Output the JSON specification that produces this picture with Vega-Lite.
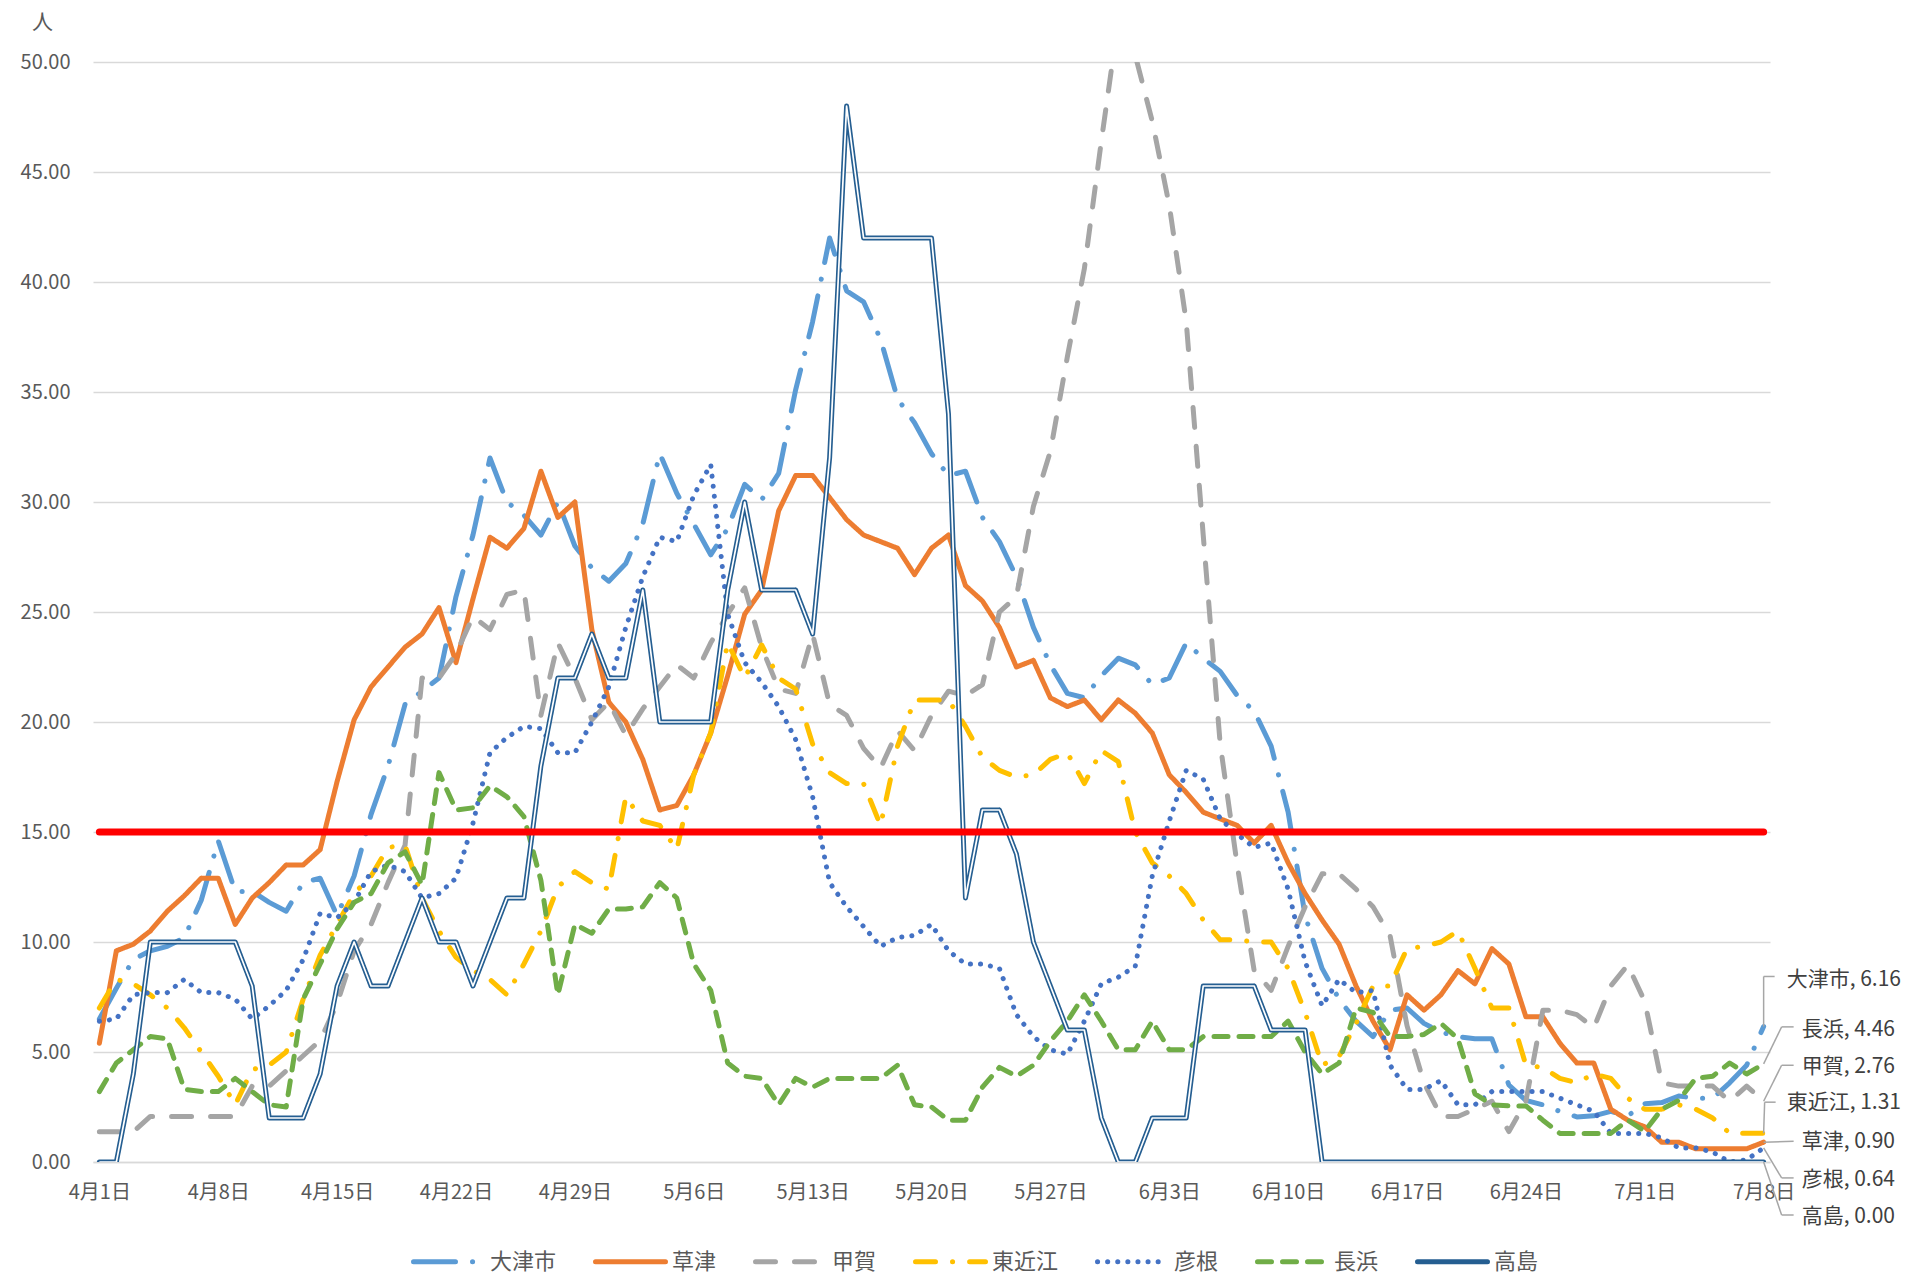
{
  "$schema": "https://vega.github.io/schema/vega-lite/v6.json",
  "width": 1677,
  "height": 1100,
  "autosize": {"type": "none"},
  "padding": {"left": 93, "top": 62, "right": 144, "bottom": 113},
  "background": "white",
  "config": {"view": {"stroke": null}, "font": "Noto Sans CJK JP"},
  "datasets": {
    "threshold": [{"start": "2021-04-01", "end": "2021-07-08", "level": 15}],
    "rates": [
{"date":"2021-04-01","city":"大津市","v":6.5},{"date":"2021-04-02","city":"大津市","v":7.9},{"date":"2021-04-03","city":"大津市","v":9.2},{"date":"2021-04-04","city":"大津市","v":9.6},{"date":"2021-04-05","city":"大津市","v":9.8},{"date":"2021-04-06","city":"大津市","v":10.2},{"date":"2021-04-07","city":"大津市","v":11.9},{"date":"2021-04-08","city":"大津市","v":14.6},{"date":"2021-04-09","city":"大津市","v":12.3},{"date":"2021-04-10","city":"大津市","v":12.3},
{"date":"2021-04-11","city":"大津市","v":11.8},{"date":"2021-04-12","city":"大津市","v":11.4},{"date":"2021-04-13","city":"大津市","v":12.7},{"date":"2021-04-14","city":"大津市","v":12.9},{"date":"2021-04-15","city":"大津市","v":11.2},{"date":"2021-04-16","city":"大津市","v":13.0},{"date":"2021-04-17","city":"大津市","v":15.8},{"date":"2021-04-18","city":"大津市","v":18.0},{"date":"2021-04-19","city":"大津市","v":20.8},{"date":"2021-04-20","city":"大津市","v":21.4},
{"date":"2021-04-21","city":"大津市","v":22.0},{"date":"2021-04-22","city":"大津市","v":25.7},{"date":"2021-04-23","city":"大津市","v":28.5},{"date":"2021-04-24","city":"大津市","v":32.0},{"date":"2021-04-25","city":"大津市","v":30.0},{"date":"2021-04-26","city":"大津市","v":29.4},{"date":"2021-04-27","city":"大津市","v":28.5},{"date":"2021-04-28","city":"大津市","v":30.0},{"date":"2021-04-29","city":"大津市","v":28.0},{"date":"2021-04-30","city":"大津市","v":27.0},
{"date":"2021-05-01","city":"大津市","v":26.4},{"date":"2021-05-02","city":"大津市","v":27.2},{"date":"2021-05-03","city":"大津市","v":29.0},{"date":"2021-05-04","city":"大津市","v":32.2},{"date":"2021-05-05","city":"大津市","v":30.4},{"date":"2021-05-06","city":"大津市","v":29.0},{"date":"2021-05-07","city":"大津市","v":27.6},{"date":"2021-05-08","city":"大津市","v":28.8},{"date":"2021-05-09","city":"大津市","v":30.8},{"date":"2021-05-10","city":"大津市","v":30.1},
{"date":"2021-05-11","city":"大津市","v":31.3},{"date":"2021-05-12","city":"大津市","v":35.1},{"date":"2021-05-13","city":"大津市","v":38.2},{"date":"2021-05-14","city":"大津市","v":42.0},{"date":"2021-05-15","city":"大津市","v":39.6},{"date":"2021-05-16","city":"大津市","v":39.1},{"date":"2021-05-17","city":"大津市","v":37.4},{"date":"2021-05-18","city":"大津市","v":34.7},{"date":"2021-05-19","city":"大津市","v":33.6},{"date":"2021-05-20","city":"大津市","v":32.2},
{"date":"2021-05-21","city":"大津市","v":31.2},{"date":"2021-05-22","city":"大津市","v":31.4},{"date":"2021-05-23","city":"大津市","v":29.3},{"date":"2021-05-24","city":"大津市","v":28.2},{"date":"2021-05-25","city":"大津市","v":26.6},{"date":"2021-05-26","city":"大津市","v":24.3},{"date":"2021-05-27","city":"大津市","v":22.6},{"date":"2021-05-28","city":"大津市","v":21.3},{"date":"2021-05-29","city":"大津市","v":21.1},{"date":"2021-05-30","city":"大津市","v":22.1},
{"date":"2021-05-31","city":"大津市","v":22.9},{"date":"2021-06-01","city":"大津市","v":22.6},{"date":"2021-06-02","city":"大津市","v":21.7},{"date":"2021-06-03","city":"大津市","v":22.0},{"date":"2021-06-04","city":"大津市","v":23.6},{"date":"2021-06-05","city":"大津市","v":22.9},{"date":"2021-06-06","city":"大津市","v":22.3},{"date":"2021-06-07","city":"大津市","v":21.2},{"date":"2021-06-08","city":"大津市","v":20.5},{"date":"2021-06-09","city":"大津市","v":18.9},
{"date":"2021-06-10","city":"大津市","v":15.9},{"date":"2021-06-11","city":"大津市","v":11.2},{"date":"2021-06-12","city":"大津市","v":8.8},{"date":"2021-06-13","city":"大津市","v":7.4},{"date":"2021-06-14","city":"大津市","v":6.4},{"date":"2021-06-15","city":"大津市","v":5.7},{"date":"2021-06-16","city":"大津市","v":6.9},{"date":"2021-06-17","city":"大津市","v":7.0},{"date":"2021-06-18","city":"大津市","v":6.3},{"date":"2021-06-19","city":"大津市","v":5.9},
{"date":"2021-06-20","city":"大津市","v":5.7},{"date":"2021-06-21","city":"大津市","v":5.6},{"date":"2021-06-22","city":"大津市","v":5.6},{"date":"2021-06-23","city":"大津市","v":3.5},{"date":"2021-06-24","city":"大津市","v":2.8},{"date":"2021-06-25","city":"大津市","v":2.6},{"date":"2021-06-26","city":"大津市","v":2.3},{"date":"2021-06-27","city":"大津市","v":2.05},{"date":"2021-06-28","city":"大津市","v":2.1},{"date":"2021-06-29","city":"大津市","v":2.3},
{"date":"2021-06-30","city":"大津市","v":2.1},{"date":"2021-07-01","city":"大津市","v":2.65},{"date":"2021-07-02","city":"大津市","v":2.7},{"date":"2021-07-03","city":"大津市","v":3.0},{"date":"2021-07-04","city":"大津市","v":2.9},{"date":"2021-07-05","city":"大津市","v":2.9},{"date":"2021-07-06","city":"大津市","v":3.6},{"date":"2021-07-07","city":"大津市","v":4.4},{"date":"2021-07-08","city":"大津市","v":6.16},

{"date":"2021-04-01","city":"草津","v":5.4},{"date":"2021-04-02","city":"草津","v":9.6},{"date":"2021-04-03","city":"草津","v":9.9},{"date":"2021-04-04","city":"草津","v":10.5},{"date":"2021-04-05","city":"草津","v":11.4},{"date":"2021-04-06","city":"草津","v":12.1},{"date":"2021-04-07","city":"草津","v":12.9},{"date":"2021-04-08","city":"草津","v":12.9},{"date":"2021-04-09","city":"草津","v":10.8},{"date":"2021-04-10","city":"草津","v":12.0},
{"date":"2021-04-11","city":"草津","v":12.7},{"date":"2021-04-12","city":"草津","v":13.5},{"date":"2021-04-13","city":"草津","v":13.5},{"date":"2021-04-14","city":"草津","v":14.2},{"date":"2021-04-15","city":"草津","v":17.3},{"date":"2021-04-16","city":"草津","v":20.1},{"date":"2021-04-17","city":"草津","v":21.6},{"date":"2021-04-18","city":"草津","v":22.5},{"date":"2021-04-19","city":"草津","v":23.4},{"date":"2021-04-20","city":"草津","v":24.0},
{"date":"2021-04-21","city":"草津","v":25.2},{"date":"2021-04-22","city":"草津","v":22.7},{"date":"2021-04-23","city":"草津","v":25.6},{"date":"2021-04-24","city":"草津","v":28.4},{"date":"2021-04-25","city":"草津","v":27.9},{"date":"2021-04-26","city":"草津","v":28.8},{"date":"2021-04-27","city":"草津","v":31.4},{"date":"2021-04-28","city":"草津","v":29.3},{"date":"2021-04-29","city":"草津","v":30.0},{"date":"2021-04-30","city":"草津","v":24.2},
{"date":"2021-05-01","city":"草津","v":20.9},{"date":"2021-05-02","city":"草津","v":20.0},{"date":"2021-05-03","city":"草津","v":18.3},{"date":"2021-05-04","city":"草津","v":16.0},{"date":"2021-05-05","city":"草津","v":16.2},{"date":"2021-05-06","city":"草津","v":17.6},{"date":"2021-05-07","city":"草津","v":19.5},{"date":"2021-05-08","city":"草津","v":22.1},{"date":"2021-05-09","city":"草津","v":24.9},{"date":"2021-05-10","city":"草津","v":26.0},
{"date":"2021-05-11","city":"草津","v":29.6},{"date":"2021-05-12","city":"草津","v":31.2},{"date":"2021-05-13","city":"草津","v":31.2},{"date":"2021-05-14","city":"草津","v":30.2},{"date":"2021-05-15","city":"草津","v":29.2},{"date":"2021-05-16","city":"草津","v":28.5},{"date":"2021-05-17","city":"草津","v":28.2},{"date":"2021-05-18","city":"草津","v":27.9},{"date":"2021-05-19","city":"草津","v":26.7},{"date":"2021-05-20","city":"草津","v":27.9},
{"date":"2021-05-21","city":"草津","v":28.5},{"date":"2021-05-22","city":"草津","v":26.2},{"date":"2021-05-23","city":"草津","v":25.5},{"date":"2021-05-24","city":"草津","v":24.3},{"date":"2021-05-25","city":"草津","v":22.5},{"date":"2021-05-26","city":"草津","v":22.8},{"date":"2021-05-27","city":"草津","v":21.1},{"date":"2021-05-28","city":"草津","v":20.7},{"date":"2021-05-29","city":"草津","v":21.0},{"date":"2021-05-30","city":"草津","v":20.1},
{"date":"2021-05-31","city":"草津","v":21.0},{"date":"2021-06-01","city":"草津","v":20.4},{"date":"2021-06-02","city":"草津","v":19.5},{"date":"2021-06-03","city":"草津","v":17.6},{"date":"2021-06-04","city":"草津","v":16.8},{"date":"2021-06-05","city":"草津","v":15.9},{"date":"2021-06-06","city":"草津","v":15.6},{"date":"2021-06-07","city":"草津","v":15.3},{"date":"2021-06-08","city":"草津","v":14.5},{"date":"2021-06-09","city":"草津","v":15.3},
{"date":"2021-06-10","city":"草津","v":13.6},{"date":"2021-06-11","city":"草津","v":12.2},{"date":"2021-06-12","city":"草津","v":11.0},{"date":"2021-06-13","city":"草津","v":9.9},{"date":"2021-06-14","city":"草津","v":8.0},{"date":"2021-06-15","city":"草津","v":6.4},{"date":"2021-06-16","city":"草津","v":5.1},{"date":"2021-06-17","city":"草津","v":7.6},{"date":"2021-06-18","city":"草津","v":6.9},{"date":"2021-06-19","city":"草津","v":7.6},
{"date":"2021-06-20","city":"草津","v":8.7},{"date":"2021-06-21","city":"草津","v":8.1},{"date":"2021-06-22","city":"草津","v":9.7},{"date":"2021-06-23","city":"草津","v":9.0},{"date":"2021-06-24","city":"草津","v":6.6},{"date":"2021-06-25","city":"草津","v":6.6},{"date":"2021-06-26","city":"草津","v":5.4},{"date":"2021-06-27","city":"草津","v":4.5},{"date":"2021-06-28","city":"草津","v":4.5},{"date":"2021-06-29","city":"草津","v":2.4},
{"date":"2021-06-30","city":"草津","v":1.9},{"date":"2021-07-01","city":"草津","v":1.6},{"date":"2021-07-02","city":"草津","v":0.9},{"date":"2021-07-03","city":"草津","v":0.9},{"date":"2021-07-04","city":"草津","v":0.6},{"date":"2021-07-05","city":"草津","v":0.6},{"date":"2021-07-06","city":"草津","v":0.6},{"date":"2021-07-07","city":"草津","v":0.6},{"date":"2021-07-08","city":"草津","v":0.9},

{"date":"2021-04-01","city":"甲賀","v":1.38},{"date":"2021-04-02","city":"甲賀","v":1.38},{"date":"2021-04-03","city":"甲賀","v":1.38},{"date":"2021-04-04","city":"甲賀","v":2.07},{"date":"2021-04-05","city":"甲賀","v":2.07},{"date":"2021-04-06","city":"甲賀","v":2.07},{"date":"2021-04-07","city":"甲賀","v":2.07},{"date":"2021-04-08","city":"甲賀","v":2.07},{"date":"2021-04-09","city":"甲賀","v":2.07},{"date":"2021-04-10","city":"甲賀","v":3.45},
{"date":"2021-04-11","city":"甲賀","v":3.45},{"date":"2021-04-12","city":"甲賀","v":4.14},{"date":"2021-04-13","city":"甲賀","v":4.83},{"date":"2021-04-14","city":"甲賀","v":5.52},{"date":"2021-04-15","city":"甲賀","v":7.2},{"date":"2021-04-16","city":"甲賀","v":9.6},{"date":"2021-04-17","city":"甲賀","v":10.8},{"date":"2021-04-18","city":"甲賀","v":12.7},{"date":"2021-04-19","city":"甲賀","v":14.4},{"date":"2021-04-20","city":"甲賀","v":22.0},
{"date":"2021-04-21","city":"甲賀","v":22.0},{"date":"2021-04-22","city":"甲賀","v":23.1},{"date":"2021-04-23","city":"甲賀","v":24.8},{"date":"2021-04-24","city":"甲賀","v":24.2},{"date":"2021-04-25","city":"甲賀","v":25.8},{"date":"2021-04-26","city":"甲賀","v":26.0},{"date":"2021-04-27","city":"甲賀","v":20.3},{"date":"2021-04-28","city":"甲賀","v":23.6},{"date":"2021-04-29","city":"甲賀","v":22.0},{"date":"2021-04-30","city":"甲賀","v":20.1},
{"date":"2021-05-01","city":"甲賀","v":20.9},{"date":"2021-05-02","city":"甲賀","v":19.4},{"date":"2021-05-03","city":"甲賀","v":20.6},{"date":"2021-05-04","city":"甲賀","v":21.6},{"date":"2021-05-05","city":"甲賀","v":22.6},{"date":"2021-05-06","city":"甲賀","v":22.0},{"date":"2021-05-07","city":"甲賀","v":23.6},{"date":"2021-05-08","city":"甲賀","v":24.9},{"date":"2021-05-09","city":"甲賀","v":26.1},{"date":"2021-05-10","city":"甲賀","v":23.4},
{"date":"2021-05-11","city":"甲賀","v":21.5},{"date":"2021-05-12","city":"甲賀","v":21.3},{"date":"2021-05-13","city":"甲賀","v":24.0},{"date":"2021-05-14","city":"甲賀","v":20.8},{"date":"2021-05-15","city":"甲賀","v":20.3},{"date":"2021-05-16","city":"甲賀","v":18.8},{"date":"2021-05-17","city":"甲賀","v":17.9},{"date":"2021-05-18","city":"甲賀","v":19.6},{"date":"2021-05-19","city":"甲賀","v":18.7},{"date":"2021-05-20","city":"甲賀","v":20.3},
{"date":"2021-05-21","city":"甲賀","v":21.4},{"date":"2021-05-22","city":"甲賀","v":21.2},{"date":"2021-05-23","city":"甲賀","v":21.7},{"date":"2021-05-24","city":"甲賀","v":25.0},{"date":"2021-05-25","city":"甲賀","v":25.7},{"date":"2021-05-26","city":"甲賀","v":29.8},{"date":"2021-05-27","city":"甲賀","v":32.3},{"date":"2021-05-28","city":"甲賀","v":36.6},{"date":"2021-05-29","city":"甲賀","v":40.6},{"date":"2021-05-30","city":"甲賀","v":46.4},
{"date":"2021-05-31","city":"甲賀","v":51.9},{"date":"2021-06-01","city":"甲賀","v":50.3},{"date":"2021-06-02","city":"甲賀","v":47.3},{"date":"2021-06-03","city":"甲賀","v":43.5},{"date":"2021-06-04","city":"甲賀","v":38.2},{"date":"2021-06-05","city":"甲賀","v":28.5},{"date":"2021-06-06","city":"甲賀","v":19.0},{"date":"2021-06-07","city":"甲賀","v":13.5},{"date":"2021-06-08","city":"甲賀","v":8.7},{"date":"2021-06-09","city":"甲賀","v":7.8},
{"date":"2021-06-10","city":"甲賀","v":9.8},{"date":"2021-06-11","city":"甲賀","v":11.6},{"date":"2021-06-12","city":"甲賀","v":13.1},{"date":"2021-06-13","city":"甲賀","v":13.1},{"date":"2021-06-14","city":"甲賀","v":12.4},{"date":"2021-06-15","city":"甲賀","v":11.6},{"date":"2021-06-16","city":"甲賀","v":10.3},{"date":"2021-06-17","city":"甲賀","v":6.2},{"date":"2021-06-18","city":"甲賀","v":3.6},{"date":"2021-06-19","city":"甲賀","v":2.07},
{"date":"2021-06-20","city":"甲賀","v":2.07},{"date":"2021-06-21","city":"甲賀","v":2.4},{"date":"2021-06-22","city":"甲賀","v":2.76},{"date":"2021-06-23","city":"甲賀","v":1.38},{"date":"2021-06-24","city":"甲賀","v":2.76},{"date":"2021-06-25","city":"甲賀","v":6.9},{"date":"2021-06-26","city":"甲賀","v":6.9},{"date":"2021-06-27","city":"甲賀","v":6.7},{"date":"2021-06-28","city":"甲賀","v":6.1},{"date":"2021-06-29","city":"甲賀","v":8.0},
{"date":"2021-06-30","city":"甲賀","v":8.96},{"date":"2021-07-01","city":"甲賀","v":7.3},{"date":"2021-07-02","city":"甲賀","v":3.6},{"date":"2021-07-03","city":"甲賀","v":3.45},{"date":"2021-07-04","city":"甲賀","v":3.45},{"date":"2021-07-05","city":"甲賀","v":3.45},{"date":"2021-07-06","city":"甲賀","v":2.76},{"date":"2021-07-07","city":"甲賀","v":3.45},{"date":"2021-07-08","city":"甲賀","v":2.76},

{"date":"2021-04-01","city":"東近江","v":7.0},{"date":"2021-04-02","city":"東近江","v":8.3},{"date":"2021-04-03","city":"東近江","v":8.1},{"date":"2021-04-04","city":"東近江","v":7.6},{"date":"2021-04-05","city":"東近江","v":7.0},{"date":"2021-04-06","city":"東近江","v":6.1},{"date":"2021-04-07","city":"東近江","v":5.0},{"date":"2021-04-08","city":"東近江","v":3.9},{"date":"2021-04-09","city":"東近江","v":2.6},{"date":"2021-04-10","city":"東近江","v":4.2},
{"date":"2021-04-11","city":"東近江","v":4.4},{"date":"2021-04-12","city":"東近江","v":5.0},{"date":"2021-04-13","city":"東近江","v":7.4},{"date":"2021-04-14","city":"東近江","v":9.4},{"date":"2021-04-15","city":"東近江","v":10.8},{"date":"2021-04-16","city":"東近江","v":12.2},{"date":"2021-04-17","city":"東近江","v":13.0},{"date":"2021-04-18","city":"東近江","v":14.3},{"date":"2021-04-19","city":"東近江","v":14.4},{"date":"2021-04-20","city":"東近江","v":12.0},
{"date":"2021-04-21","city":"東近江","v":10.5},{"date":"2021-04-22","city":"東近江","v":9.3},{"date":"2021-04-23","city":"東近江","v":8.7},{"date":"2021-04-24","city":"東近江","v":8.3},{"date":"2021-04-25","city":"東近江","v":7.6},{"date":"2021-04-26","city":"東近江","v":9.0},{"date":"2021-04-27","city":"東近江","v":10.5},{"date":"2021-04-28","city":"東近江","v":12.5},{"date":"2021-04-29","city":"東近江","v":13.2},{"date":"2021-04-30","city":"東近江","v":12.7},
{"date":"2021-05-01","city":"東近江","v":12.4},{"date":"2021-05-02","city":"東近江","v":16.6},{"date":"2021-05-03","city":"東近江","v":15.5},{"date":"2021-05-04","city":"東近江","v":15.3},{"date":"2021-05-05","city":"東近江","v":14.2},{"date":"2021-05-06","city":"東近江","v":17.6},{"date":"2021-05-07","city":"東近江","v":19.5},{"date":"2021-05-08","city":"東近江","v":23.6},{"date":"2021-05-09","city":"東近江","v":22.0},{"date":"2021-05-10","city":"東近江","v":23.5},
{"date":"2021-05-11","city":"東近江","v":22.0},{"date":"2021-05-12","city":"東近江","v":21.5},{"date":"2021-05-13","city":"東近江","v":19.0},{"date":"2021-05-14","city":"東近江","v":17.7},{"date":"2021-05-15","city":"東近江","v":17.2},{"date":"2021-05-16","city":"東近江","v":17.2},{"date":"2021-05-17","city":"東近江","v":15.3},{"date":"2021-05-18","city":"東近江","v":18.9},{"date":"2021-05-19","city":"東近江","v":21.0},{"date":"2021-05-20","city":"東近江","v":21.0},
{"date":"2021-05-21","city":"東近江","v":21.0},{"date":"2021-05-22","city":"東近江","v":19.8},{"date":"2021-05-23","city":"東近江","v":18.4},{"date":"2021-05-24","city":"東近江","v":17.8},{"date":"2021-05-25","city":"東近江","v":17.5},{"date":"2021-05-26","city":"東近江","v":17.6},{"date":"2021-05-27","city":"東近江","v":18.3},{"date":"2021-05-28","city":"東近江","v":18.6},{"date":"2021-05-29","city":"東近江","v":17.2},{"date":"2021-05-30","city":"東近江","v":18.7},
{"date":"2021-05-31","city":"東近江","v":18.2},{"date":"2021-06-01","city":"東近江","v":15.0},{"date":"2021-06-02","city":"東近江","v":13.6},{"date":"2021-06-03","city":"東近江","v":13.0},{"date":"2021-06-04","city":"東近江","v":12.2},{"date":"2021-06-05","city":"東近江","v":11.0},{"date":"2021-06-06","city":"東近江","v":10.1},{"date":"2021-06-07","city":"東近江","v":10.1},{"date":"2021-06-08","city":"東近江","v":10.0},{"date":"2021-06-09","city":"東近江","v":10.0},
{"date":"2021-06-10","city":"東近江","v":8.8},{"date":"2021-06-11","city":"東近江","v":6.8},{"date":"2021-06-12","city":"東近江","v":4.4},{"date":"2021-06-13","city":"東近江","v":4.8},{"date":"2021-06-14","city":"東近江","v":6.3},{"date":"2021-06-15","city":"東近江","v":8.0},{"date":"2021-06-16","city":"東近江","v":8.0},{"date":"2021-06-17","city":"東近江","v":9.7},{"date":"2021-06-18","city":"東近江","v":9.8},{"date":"2021-06-19","city":"東近江","v":10.0},
{"date":"2021-06-20","city":"東近江","v":10.5},{"date":"2021-06-21","city":"東近江","v":8.8},{"date":"2021-06-22","city":"東近江","v":7.0},{"date":"2021-06-23","city":"東近江","v":7.0},{"date":"2021-06-24","city":"東近江","v":4.4},{"date":"2021-06-25","city":"東近江","v":4.3},{"date":"2021-06-26","city":"東近江","v":3.8},{"date":"2021-06-27","city":"東近江","v":3.6},{"date":"2021-06-28","city":"東近江","v":4.0},{"date":"2021-06-29","city":"東近江","v":3.8},
{"date":"2021-06-30","city":"東近江","v":2.9},{"date":"2021-07-01","city":"東近江","v":2.4},{"date":"2021-07-02","city":"東近江","v":2.4},{"date":"2021-07-03","city":"東近江","v":2.6},{"date":"2021-07-04","city":"東近江","v":2.4},{"date":"2021-07-05","city":"東近江","v":2.0},{"date":"2021-07-06","city":"東近江","v":1.31},{"date":"2021-07-07","city":"東近江","v":1.31},{"date":"2021-07-08","city":"東近江","v":1.31},

{"date":"2021-04-01","city":"彦根","v":6.4},{"date":"2021-04-02","city":"彦根","v":6.5},{"date":"2021-04-03","city":"彦根","v":7.6},{"date":"2021-04-04","city":"彦根","v":7.7},{"date":"2021-04-05","city":"彦根","v":7.7},{"date":"2021-04-06","city":"彦根","v":8.3},{"date":"2021-04-07","city":"彦根","v":7.7},{"date":"2021-04-08","city":"彦根","v":7.7},{"date":"2021-04-09","city":"彦根","v":7.4},{"date":"2021-04-10","city":"彦根","v":6.5},
{"date":"2021-04-11","city":"彦根","v":7.1},{"date":"2021-04-12","city":"彦根","v":7.8},{"date":"2021-04-13","city":"彦根","v":9.2},{"date":"2021-04-14","city":"彦根","v":11.3},{"date":"2021-04-15","city":"彦根","v":11.1},{"date":"2021-04-16","city":"彦根","v":11.8},{"date":"2021-04-17","city":"彦根","v":13.2},{"date":"2021-04-18","city":"彦根","v":13.5},{"date":"2021-04-19","city":"彦根","v":13.2},{"date":"2021-04-20","city":"彦根","v":12.0},
{"date":"2021-04-21","city":"彦根","v":12.2},{"date":"2021-04-22","city":"彦根","v":12.9},{"date":"2021-04-23","city":"彦根","v":15.4},{"date":"2021-04-24","city":"彦根","v":18.6},{"date":"2021-04-25","city":"彦根","v":19.3},{"date":"2021-04-26","city":"彦根","v":19.8},{"date":"2021-04-27","city":"彦根","v":19.7},{"date":"2021-04-28","city":"彦根","v":18.6},{"date":"2021-04-29","city":"彦根","v":18.6},{"date":"2021-04-30","city":"彦根","v":20.0},
{"date":"2021-05-01","city":"彦根","v":21.6},{"date":"2021-05-02","city":"彦根","v":24.3},{"date":"2021-05-03","city":"彦根","v":26.6},{"date":"2021-05-04","city":"彦根","v":28.4},{"date":"2021-05-05","city":"彦根","v":28.2},{"date":"2021-05-06","city":"彦根","v":30.3},{"date":"2021-05-07","city":"彦根","v":31.7},{"date":"2021-05-08","city":"彦根","v":24.9},{"date":"2021-05-09","city":"彦根","v":22.7},{"date":"2021-05-10","city":"彦根","v":21.8},
{"date":"2021-05-11","city":"彦根","v":20.7},{"date":"2021-05-12","city":"彦根","v":19.2},{"date":"2021-05-13","city":"彦根","v":16.6},{"date":"2021-05-14","city":"彦根","v":12.7},{"date":"2021-05-15","city":"彦根","v":11.6},{"date":"2021-05-16","city":"彦根","v":10.7},{"date":"2021-05-17","city":"彦根","v":9.8},{"date":"2021-05-18","city":"彦根","v":10.2},{"date":"2021-05-19","city":"彦根","v":10.3},{"date":"2021-05-20","city":"彦根","v":10.8},
{"date":"2021-05-21","city":"彦根","v":9.6},{"date":"2021-05-22","city":"彦根","v":9.0},{"date":"2021-05-23","city":"彦根","v":9.0},{"date":"2021-05-24","city":"彦根","v":8.8},{"date":"2021-05-25","city":"彦根","v":6.7},{"date":"2021-05-26","city":"彦根","v":5.7},{"date":"2021-05-27","city":"彦根","v":5.1},{"date":"2021-05-28","city":"彦根","v":4.9},{"date":"2021-05-29","city":"彦根","v":6.4},{"date":"2021-05-30","city":"彦根","v":8.1},
{"date":"2021-05-31","city":"彦根","v":8.4},{"date":"2021-06-01","city":"彦根","v":8.9},{"date":"2021-06-02","city":"彦根","v":13.0},{"date":"2021-06-03","city":"彦根","v":15.5},{"date":"2021-06-04","city":"彦根","v":17.8},{"date":"2021-06-05","city":"彦根","v":17.4},{"date":"2021-06-06","city":"彦根","v":15.6},{"date":"2021-06-07","city":"彦根","v":14.9},{"date":"2021-06-08","city":"彦根","v":14.3},{"date":"2021-06-09","city":"彦根","v":14.5},
{"date":"2021-06-10","city":"彦根","v":12.4},{"date":"2021-06-11","city":"彦根","v":9.1},{"date":"2021-06-12","city":"彦根","v":7.1},{"date":"2021-06-13","city":"彦根","v":8.3},{"date":"2021-06-14","city":"彦根","v":7.7},{"date":"2021-06-15","city":"彦根","v":7.8},{"date":"2021-06-16","city":"彦根","v":4.4},{"date":"2021-06-17","city":"彦根","v":3.3},{"date":"2021-06-18","city":"彦根","v":3.3},{"date":"2021-06-19","city":"彦根","v":3.7},
{"date":"2021-06-20","city":"彦根","v":2.6},{"date":"2021-06-21","city":"彦根","v":2.6},{"date":"2021-06-22","city":"彦根","v":3.2},{"date":"2021-06-23","city":"彦根","v":3.2},{"date":"2021-06-24","city":"彦根","v":3.2},{"date":"2021-06-25","city":"彦根","v":3.2},{"date":"2021-06-26","city":"彦根","v":2.9},{"date":"2021-06-27","city":"彦根","v":2.6},{"date":"2021-06-28","city":"彦根","v":2.3},{"date":"2021-06-29","city":"彦根","v":1.3},
{"date":"2021-06-30","city":"彦根","v":1.3},{"date":"2021-07-01","city":"彦根","v":1.3},{"date":"2021-07-02","city":"彦根","v":1.1},{"date":"2021-07-03","city":"彦根","v":0.64},{"date":"2021-07-04","city":"彦根","v":0.64},{"date":"2021-07-05","city":"彦根","v":0.45},{"date":"2021-07-06","city":"彦根","v":0},{"date":"2021-07-07","city":"彦根","v":0.1},{"date":"2021-07-08","city":"彦根","v":0.64},

{"date":"2021-04-01","city":"長浜","v":3.2},{"date":"2021-04-02","city":"長浜","v":4.5},{"date":"2021-04-03","city":"長浜","v":5.1},{"date":"2021-04-04","city":"長浜","v":5.7},{"date":"2021-04-05","city":"長浜","v":5.6},{"date":"2021-04-06","city":"長浜","v":3.3},{"date":"2021-04-07","city":"長浜","v":3.2},{"date":"2021-04-08","city":"長浜","v":3.2},{"date":"2021-04-09","city":"長浜","v":3.8},{"date":"2021-04-10","city":"長浜","v":3.2},
{"date":"2021-04-11","city":"長浜","v":2.6},{"date":"2021-04-12","city":"長浜","v":2.5},{"date":"2021-04-13","city":"長浜","v":7.4},{"date":"2021-04-14","city":"長浜","v":9.0},{"date":"2021-04-15","city":"長浜","v":10.6},{"date":"2021-04-16","city":"長浜","v":11.8},{"date":"2021-04-17","city":"長浜","v":12.2},{"date":"2021-04-18","city":"長浜","v":13.6},{"date":"2021-04-19","city":"長浜","v":14.1},{"date":"2021-04-20","city":"長浜","v":12.6},
{"date":"2021-04-21","city":"長浜","v":17.7},{"date":"2021-04-22","city":"長浜","v":16.0},{"date":"2021-04-23","city":"長浜","v":16.1},{"date":"2021-04-24","city":"長浜","v":17.1},{"date":"2021-04-25","city":"長浜","v":16.6},{"date":"2021-04-26","city":"長浜","v":15.7},{"date":"2021-04-27","city":"長浜","v":12.8},{"date":"2021-04-28","city":"長浜","v":7.6},{"date":"2021-04-29","city":"長浜","v":10.8},{"date":"2021-04-30","city":"長浜","v":10.4},
{"date":"2021-05-01","city":"長浜","v":11.5},{"date":"2021-05-02","city":"長浜","v":11.5},{"date":"2021-05-03","city":"長浜","v":11.6},{"date":"2021-05-04","city":"長浜","v":12.7},{"date":"2021-05-05","city":"長浜","v":12.0},{"date":"2021-05-06","city":"長浜","v":9.0},{"date":"2021-05-07","city":"長浜","v":7.8},{"date":"2021-05-08","city":"長浜","v":4.5},{"date":"2021-05-09","city":"長浜","v":3.9},{"date":"2021-05-10","city":"長浜","v":3.8},
{"date":"2021-05-11","city":"長浜","v":2.6},{"date":"2021-05-12","city":"長浜","v":3.8},{"date":"2021-05-13","city":"長浜","v":3.4},{"date":"2021-05-14","city":"長浜","v":3.8},{"date":"2021-05-15","city":"長浜","v":3.8},{"date":"2021-05-16","city":"長浜","v":3.8},{"date":"2021-05-17","city":"長浜","v":3.8},{"date":"2021-05-18","city":"長浜","v":4.4},{"date":"2021-05-19","city":"長浜","v":2.6},{"date":"2021-05-20","city":"長浜","v":2.5},
{"date":"2021-05-21","city":"長浜","v":1.9},{"date":"2021-05-22","city":"長浜","v":1.9},{"date":"2021-05-23","city":"長浜","v":3.4},{"date":"2021-05-24","city":"長浜","v":4.3},{"date":"2021-05-25","city":"長浜","v":3.9},{"date":"2021-05-26","city":"長浜","v":4.4},{"date":"2021-05-27","city":"長浜","v":5.5},{"date":"2021-05-28","city":"長浜","v":6.4},{"date":"2021-05-29","city":"長浜","v":7.6},{"date":"2021-05-30","city":"長浜","v":6.4},
{"date":"2021-05-31","city":"長浜","v":5.1},{"date":"2021-06-01","city":"長浜","v":5.1},{"date":"2021-06-02","city":"長浜","v":6.4},{"date":"2021-06-03","city":"長浜","v":5.1},{"date":"2021-06-04","city":"長浜","v":5.1},{"date":"2021-06-05","city":"長浜","v":5.7},{"date":"2021-06-06","city":"長浜","v":5.7},{"date":"2021-06-07","city":"長浜","v":5.7},{"date":"2021-06-08","city":"長浜","v":5.7},{"date":"2021-06-09","city":"長浜","v":5.7},
{"date":"2021-06-10","city":"長浜","v":6.4},{"date":"2021-06-11","city":"長浜","v":5.0},{"date":"2021-06-12","city":"長浜","v":4.0},{"date":"2021-06-13","city":"長浜","v":4.5},{"date":"2021-06-14","city":"長浜","v":7.0},{"date":"2021-06-15","city":"長浜","v":6.8},{"date":"2021-06-16","city":"長浜","v":5.7},{"date":"2021-06-17","city":"長浜","v":5.7},{"date":"2021-06-18","city":"長浜","v":5.8},{"date":"2021-06-19","city":"長浜","v":6.3},
{"date":"2021-06-20","city":"長浜","v":5.6},{"date":"2021-06-21","city":"長浜","v":3.1},{"date":"2021-06-22","city":"長浜","v":2.6},{"date":"2021-06-23","city":"長浜","v":2.55},{"date":"2021-06-24","city":"長浜","v":2.55},{"date":"2021-06-25","city":"長浜","v":1.9},{"date":"2021-06-26","city":"長浜","v":1.3},{"date":"2021-06-27","city":"長浜","v":1.3},{"date":"2021-06-28","city":"長浜","v":1.3},{"date":"2021-06-29","city":"長浜","v":1.3},
{"date":"2021-06-30","city":"長浜","v":1.9},{"date":"2021-07-01","city":"長浜","v":1.4},{"date":"2021-07-02","city":"長浜","v":2.4},{"date":"2021-07-03","city":"長浜","v":2.8},{"date":"2021-07-04","city":"長浜","v":3.8},{"date":"2021-07-05","city":"長浜","v":3.9},{"date":"2021-07-06","city":"長浜","v":4.5},{"date":"2021-07-07","city":"長浜","v":4.0},{"date":"2021-07-08","city":"長浜","v":4.46},

{"date":"2021-04-01","city":"高島","v":0},{"date":"2021-04-02","city":"高島","v":0},{"date":"2021-04-03","city":"高島","v":4},{"date":"2021-04-04","city":"高島","v":10},{"date":"2021-04-05","city":"高島","v":10},{"date":"2021-04-06","city":"高島","v":10},{"date":"2021-04-07","city":"高島","v":10},{"date":"2021-04-08","city":"高島","v":10},{"date":"2021-04-09","city":"高島","v":10},{"date":"2021-04-10","city":"高島","v":8},
{"date":"2021-04-11","city":"高島","v":2},{"date":"2021-04-12","city":"高島","v":2},{"date":"2021-04-13","city":"高島","v":2},{"date":"2021-04-14","city":"高島","v":4},{"date":"2021-04-15","city":"高島","v":8},{"date":"2021-04-16","city":"高島","v":10},{"date":"2021-04-17","city":"高島","v":8},{"date":"2021-04-18","city":"高島","v":8},{"date":"2021-04-19","city":"高島","v":10},{"date":"2021-04-20","city":"高島","v":12},
{"date":"2021-04-21","city":"高島","v":10},{"date":"2021-04-22","city":"高島","v":10},{"date":"2021-04-23","city":"高島","v":8},{"date":"2021-04-24","city":"高島","v":10},{"date":"2021-04-25","city":"高島","v":12},{"date":"2021-04-26","city":"高島","v":12},{"date":"2021-04-27","city":"高島","v":18},{"date":"2021-04-28","city":"高島","v":22},{"date":"2021-04-29","city":"高島","v":22},{"date":"2021-04-30","city":"高島","v":24},
{"date":"2021-05-01","city":"高島","v":22},{"date":"2021-05-02","city":"高島","v":22},{"date":"2021-05-03","city":"高島","v":26},{"date":"2021-05-04","city":"高島","v":20},{"date":"2021-05-05","city":"高島","v":20},{"date":"2021-05-06","city":"高島","v":20},{"date":"2021-05-07","city":"高島","v":20},{"date":"2021-05-08","city":"高島","v":26},{"date":"2021-05-09","city":"高島","v":30},{"date":"2021-05-10","city":"高島","v":26},
{"date":"2021-05-11","city":"高島","v":26},{"date":"2021-05-12","city":"高島","v":26},{"date":"2021-05-13","city":"高島","v":24},{"date":"2021-05-14","city":"高島","v":32},{"date":"2021-05-15","city":"高島","v":48},{"date":"2021-05-16","city":"高島","v":42},{"date":"2021-05-17","city":"高島","v":42},{"date":"2021-05-18","city":"高島","v":42},{"date":"2021-05-19","city":"高島","v":42},{"date":"2021-05-20","city":"高島","v":42},
{"date":"2021-05-21","city":"高島","v":34},{"date":"2021-05-22","city":"高島","v":12},{"date":"2021-05-23","city":"高島","v":16},{"date":"2021-05-24","city":"高島","v":16},{"date":"2021-05-25","city":"高島","v":14},{"date":"2021-05-26","city":"高島","v":10},{"date":"2021-05-27","city":"高島","v":8},{"date":"2021-05-28","city":"高島","v":6},{"date":"2021-05-29","city":"高島","v":6},{"date":"2021-05-30","city":"高島","v":2},
{"date":"2021-05-31","city":"高島","v":0},{"date":"2021-06-01","city":"高島","v":0},{"date":"2021-06-02","city":"高島","v":2},{"date":"2021-06-03","city":"高島","v":2},{"date":"2021-06-04","city":"高島","v":2},{"date":"2021-06-05","city":"高島","v":8},{"date":"2021-06-06","city":"高島","v":8},{"date":"2021-06-07","city":"高島","v":8},{"date":"2021-06-08","city":"高島","v":8},{"date":"2021-06-09","city":"高島","v":6},
{"date":"2021-06-10","city":"高島","v":6},{"date":"2021-06-11","city":"高島","v":6},{"date":"2021-06-12","city":"高島","v":0},{"date":"2021-06-13","city":"高島","v":0},{"date":"2021-06-14","city":"高島","v":0},{"date":"2021-06-15","city":"高島","v":0},{"date":"2021-06-16","city":"高島","v":0},{"date":"2021-06-17","city":"高島","v":0},{"date":"2021-06-18","city":"高島","v":0},{"date":"2021-06-19","city":"高島","v":0},
{"date":"2021-06-20","city":"高島","v":0},{"date":"2021-06-21","city":"高島","v":0},{"date":"2021-06-22","city":"高島","v":0},{"date":"2021-06-23","city":"高島","v":0},{"date":"2021-06-24","city":"高島","v":0},{"date":"2021-06-25","city":"高島","v":0},{"date":"2021-06-26","city":"高島","v":0},{"date":"2021-06-27","city":"高島","v":0},{"date":"2021-06-28","city":"高島","v":0},{"date":"2021-06-29","city":"高島","v":0},
{"date":"2021-06-30","city":"高島","v":0},{"date":"2021-07-01","city":"高島","v":0},{"date":"2021-07-02","city":"高島","v":0},{"date":"2021-07-03","city":"高島","v":0},{"date":"2021-07-04","city":"高島","v":0},{"date":"2021-07-05","city":"高島","v":0},{"date":"2021-07-06","city":"高島","v":0},{"date":"2021-07-07","city":"高島","v":0},{"date":"2021-07-08","city":"高島","v":0}
    ]
  },
  "layer": [
    {
      "data": {"name": "rates"},
      "mark": {"type": "line", "strokeWidth": 5, "strokeCap": "round", "strokeJoin": "round", "clip": true},
      "encoding": {
        "x": {
          "field": "date", "type": "temporal",
          "scale": {"type": "utc", "domain": [{"year": 2021, "month": 3, "date": 31, "hours": 15, "utc": true}, {"year": 2021, "month": 7, "date": 8, "hours": 9, "utc": true}]},
          "axis": {
            "title": null, "grid": false, "ticks": false,
            "domainColor": "#D9D9D9", "domainWidth": 1.3,
            "labelFontSize": 20, "labelColor": "#595959", "labelPadding": 20,
            "labelFlush": false, "labelOverlap": false,
            "labelExpr": "utcFormat(datum.value, '%-m月%-d日')",
            "values": [
              {"year": 2021, "month": 4, "date": 1, "utc": true},
              {"year": 2021, "month": 4, "date": 8, "utc": true},
              {"year": 2021, "month": 4, "date": 15, "utc": true},
              {"year": 2021, "month": 4, "date": 22, "utc": true},
              {"year": 2021, "month": 4, "date": 29, "utc": true},
              {"year": 2021, "month": 5, "date": 6, "utc": true},
              {"year": 2021, "month": 5, "date": 13, "utc": true},
              {"year": 2021, "month": 5, "date": 20, "utc": true},
              {"year": 2021, "month": 5, "date": 27, "utc": true},
              {"year": 2021, "month": 6, "date": 3, "utc": true},
              {"year": 2021, "month": 6, "date": 10, "utc": true},
              {"year": 2021, "month": 6, "date": 17, "utc": true},
              {"year": 2021, "month": 6, "date": 24, "utc": true},
              {"year": 2021, "month": 7, "date": 1, "utc": true},
              {"year": 2021, "month": 7, "date": 8, "utc": true}
            ]
          }
        },
        "y": {
          "field": "v", "type": "quantitative",
          "scale": {"domain": [0, 50], "nice": false},
          "axis": {
            "values": [0, 5, 10, 15, 20, 25, 30, 35, 40, 45, 50],
            "format": ".2f", "domain": false, "ticks": false,
            "gridColor": "#D9D9D9", "gridWidth": 1.3,
            "labelFontSize": 20, "labelColor": "#595959", "labelPadding": 23,
            "title": "人", "titleAngle": 0, "titleX": -51, "titleY": -40,
            "titleAlign": "center", "titleBaseline": "middle",
            "titleFontSize": 21, "titleFontWeight": "normal", "titleColor": "#595959"
          }
        },
        "color": {
          "field": "city", "type": "nominal",
          "scale": {"domain": ["大津市", "草津", "甲賀", "東近江", "彦根", "長浜", "高島"], "range": ["#5B9BD5", "#ED7D31", "#A5A5A5", "#FFC000", "#4472C4", "#70AD47", "#255E91"]},
          "legend": {"orient": "none", "legendX": 318, "legendY": 1162, "direction": "horizontal", "columns": 7, "title": null, "symbolType": "stroke", "symbolSize": 4900, "symbolStrokeWidth": 5, "labelFontSize": 22, "labelColor": "#595959", "labelOffset": 4, "columnPadding": 28, "padding": 0,
            "encode": {"symbols": {"update": {"strokeCap": {"value": "round"}}}}}
        },
        "strokeDash": {
          "field": "city", "type": "nominal",
          "scale": {"domain": ["大津市", "草津", "甲賀", "東近江", "彦根", "長浜", "高島"], "range": [[42, 17, 0.1, 17], [1, 0], [20, 19], [20, 17, 0.1, 17], [0.1, 10], [14, 11], [1, 0]]},
          "legend": {"orient": "none", "legendX": 318, "legendY": 1162, "direction": "horizontal", "columns": 7, "title": null, "symbolType": "stroke", "symbolSize": 4900, "symbolStrokeWidth": 5, "labelFontSize": 22, "labelColor": "#595959", "labelOffset": 4, "columnPadding": 28, "padding": 0,
            "encode": {"symbols": {"update": {"strokeCap": {"value": "round"}}}}}
        }
      }
    },
    {
      "data": {"name": "rates"},
      "transform": [{"filter": "datum.city == '高島'"}],
      "mark": {"type": "line", "stroke": "white", "strokeWidth": 1.7, "strokeJoin": "round", "clip": true},
      "encoding": {"x": {"field": "date", "type": "temporal"}, "y": {"field": "v", "type": "quantitative"}}
    },
    {
      "data": {"name": "threshold"},
      "mark": {"type": "rule", "color": "#FF0000", "strokeWidth": 7, "strokeCap": "round"},
      "encoding": {"x": {"field": "start", "type": "temporal"}, "x2": {"field": "end"}, "y": {"field": "level", "type": "quantitative"}}
    },
    {
      "data": {"name": "rates"},
      "transform": [{"filter": "datum.city == '大津市' && time(datum.date) == utc(2021,6,8)"}, {"calculate": "datum.city + ', ' + format(datum.v, '.2f')", "as": "label"}],
      "layer": [
        {"mark": {"type": "rule", "color": "#A6A6A6", "strokeWidth": 1.5, "x2Offset": 0, "y2Offset": -50}, "encoding": {"x": {"field": "date", "type": "temporal"}, "y": {"field": "v", "type": "quantitative"}, "x2": {"field": "date"}, "y2": {"field": "v"}}},
        {"mark": {"type": "rule", "color": "#A6A6A6", "strokeWidth": 1.5, "yOffset": -50, "x2Offset": 11, "y2Offset": -50}, "encoding": {"x": {"field": "date", "type": "temporal"}, "y": {"field": "v", "type": "quantitative"}, "x2": {"field": "date"}, "y2": {"field": "v"}}},
        {"mark": {"type": "text", "align": "left", "baseline": "middle", "dx": 23, "dy": -46, "fontSize": 21, "color": "#404040"}, "encoding": {"x": {"field": "date", "type": "temporal"}, "y": {"field": "v", "type": "quantitative"}, "text": {"field": "label"}}}
      ]
    },
    {
      "data": {"name": "rates"},
      "transform": [{"filter": "datum.city == '長浜' && time(datum.date) == utc(2021,6,8)"}, {"calculate": "datum.city + ', ' + format(datum.v, '.2f')", "as": "label"}],
      "layer": [
        {"mark": {"type": "rule", "color": "#A6A6A6", "strokeWidth": 1.5, "x2Offset": 18, "y2Offset": -37}, "encoding": {"x": {"field": "date", "type": "temporal"}, "y": {"field": "v", "type": "quantitative"}, "x2": {"field": "date"}, "y2": {"field": "v"}}},
        {"mark": {"type": "rule", "color": "#A6A6A6", "strokeWidth": 1.5, "xOffset": 18, "yOffset": -37, "x2Offset": 30, "y2Offset": -37}, "encoding": {"x": {"field": "date", "type": "temporal"}, "y": {"field": "v", "type": "quantitative"}, "x2": {"field": "date"}, "y2": {"field": "v"}}},
        {"mark": {"type": "text", "align": "left", "baseline": "middle", "dx": 38, "dy": -34, "fontSize": 21, "color": "#404040"}, "encoding": {"x": {"field": "date", "type": "temporal"}, "y": {"field": "v", "type": "quantitative"}, "text": {"field": "label"}}}
      ]
    },
    {
      "data": {"name": "rates"},
      "transform": [{"filter": "datum.city == '甲賀' && time(datum.date) == utc(2021,6,8)"}, {"calculate": "datum.city + ', ' + format(datum.v, '.2f')", "as": "label"}],
      "layer": [
        {"mark": {"type": "rule", "color": "#A6A6A6", "strokeWidth": 1.5, "x2Offset": 18, "y2Offset": -36}, "encoding": {"x": {"field": "date", "type": "temporal"}, "y": {"field": "v", "type": "quantitative"}, "x2": {"field": "date"}, "y2": {"field": "v"}}},
        {"mark": {"type": "rule", "color": "#A6A6A6", "strokeWidth": 1.5, "xOffset": 18, "yOffset": -36, "x2Offset": 30, "y2Offset": -36}, "encoding": {"x": {"field": "date", "type": "temporal"}, "y": {"field": "v", "type": "quantitative"}, "x2": {"field": "date"}, "y2": {"field": "v"}}},
        {"mark": {"type": "text", "align": "left", "baseline": "middle", "dx": 38, "dy": -34, "fontSize": 21, "color": "#404040"}, "encoding": {"x": {"field": "date", "type": "temporal"}, "y": {"field": "v", "type": "quantitative"}, "text": {"field": "label"}}}
      ]
    },
    {
      "data": {"name": "rates"},
      "transform": [{"filter": "datum.city == '東近江' && time(datum.date) == utc(2021,6,8)"}, {"calculate": "datum.city + ', ' + format(datum.v, '.2f')", "as": "label"}],
      "layer": [
        {"mark": {"type": "rule", "color": "#A6A6A6", "strokeWidth": 1.5, "x2Offset": 1, "y2Offset": -31}, "encoding": {"x": {"field": "date", "type": "temporal"}, "y": {"field": "v", "type": "quantitative"}, "x2": {"field": "date"}, "y2": {"field": "v"}}},
        {"mark": {"type": "rule", "color": "#A6A6A6", "strokeWidth": 1.5, "xOffset": 1, "yOffset": -31, "x2Offset": 12, "y2Offset": -31}, "encoding": {"x": {"field": "date", "type": "temporal"}, "y": {"field": "v", "type": "quantitative"}, "x2": {"field": "date"}, "y2": {"field": "v"}}},
        {"mark": {"type": "text", "align": "left", "baseline": "middle", "dx": 23, "dy": -30, "fontSize": 21, "color": "#404040"}, "encoding": {"x": {"field": "date", "type": "temporal"}, "y": {"field": "v", "type": "quantitative"}, "text": {"field": "label"}}}
      ]
    },
    {
      "data": {"name": "rates"},
      "transform": [{"filter": "datum.city == '草津' && time(datum.date) == utc(2021,6,8)"}, {"calculate": "datum.city + ', ' + format(datum.v, '.2f')", "as": "label"}],
      "layer": [
        {"mark": {"type": "rule", "color": "#A6A6A6", "strokeWidth": 1.5, "x2Offset": 30, "y2Offset": -1}, "encoding": {"x": {"field": "date", "type": "temporal"}, "y": {"field": "v", "type": "quantitative"}, "x2": {"field": "date"}, "y2": {"field": "v"}}},
        {"mark": {"type": "text", "align": "left", "baseline": "middle", "dx": 38, "dy": 0, "fontSize": 21, "color": "#404040"}, "encoding": {"x": {"field": "date", "type": "temporal"}, "y": {"field": "v", "type": "quantitative"}, "text": {"field": "label"}}}
      ]
    },
    {
      "data": {"name": "rates"},
      "transform": [{"filter": "datum.city == '彦根' && time(datum.date) == utc(2021,6,8)"}, {"calculate": "datum.city + ', ' + format(datum.v, '.2f')", "as": "label"}],
      "layer": [
        {"mark": {"type": "rule", "color": "#A6A6A6", "strokeWidth": 1.5, "x2Offset": 18, "y2Offset": 30}, "encoding": {"x": {"field": "date", "type": "temporal"}, "y": {"field": "v", "type": "quantitative"}, "x2": {"field": "date"}, "y2": {"field": "v"}}},
        {"mark": {"type": "rule", "color": "#A6A6A6", "strokeWidth": 1.5, "xOffset": 18, "yOffset": 30, "x2Offset": 30, "y2Offset": 30}, "encoding": {"x": {"field": "date", "type": "temporal"}, "y": {"field": "v", "type": "quantitative"}, "x2": {"field": "date"}, "y2": {"field": "v"}}},
        {"mark": {"type": "text", "align": "left", "baseline": "middle", "dx": 38, "dy": 32, "fontSize": 21, "color": "#404040"}, "encoding": {"x": {"field": "date", "type": "temporal"}, "y": {"field": "v", "type": "quantitative"}, "text": {"field": "label"}}}
      ]
    },
    {
      "data": {"name": "rates"},
      "transform": [{"filter": "datum.city == '高島' && time(datum.date) == utc(2021,6,8)"}, {"calculate": "datum.city + ', ' + format(datum.v, '.2f')", "as": "label"}],
      "layer": [
        {"mark": {"type": "rule", "color": "#A6A6A6", "strokeWidth": 1.5, "x2Offset": 18, "y2Offset": 53}, "encoding": {"x": {"field": "date", "type": "temporal"}, "y": {"field": "v", "type": "quantitative"}, "x2": {"field": "date"}, "y2": {"field": "v"}}},
        {"mark": {"type": "rule", "color": "#A6A6A6", "strokeWidth": 1.5, "xOffset": 18, "yOffset": 53, "x2Offset": 30, "y2Offset": 53}, "encoding": {"x": {"field": "date", "type": "temporal"}, "y": {"field": "v", "type": "quantitative"}, "x2": {"field": "date"}, "y2": {"field": "v"}}},
        {"mark": {"type": "text", "align": "left", "baseline": "middle", "dx": 38, "dy": 55, "fontSize": 21, "color": "#404040"}, "encoding": {"x": {"field": "date", "type": "temporal"}, "y": {"field": "v", "type": "quantitative"}, "text": {"field": "label"}}}
      ]
    }
  ]
}
